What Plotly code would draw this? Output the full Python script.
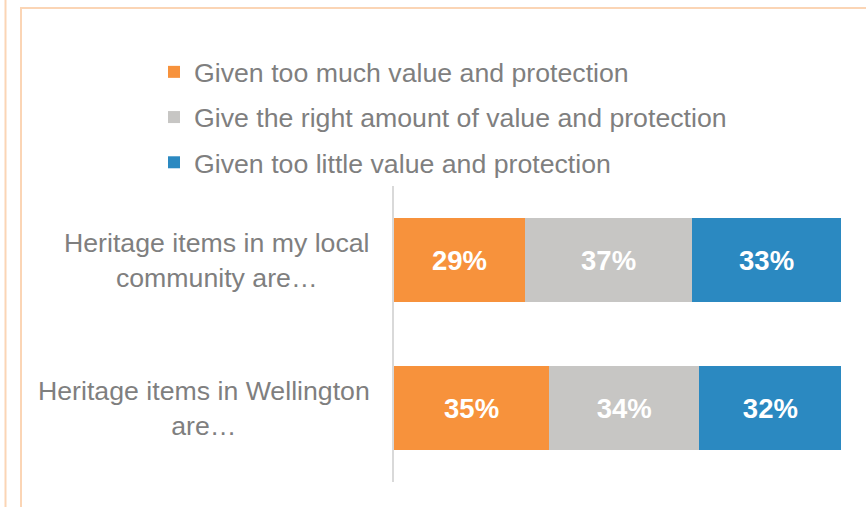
import plotly.graph_objects as go

categories = ["Heritage items in my local<br>community are…", "Heritage items in Wellington<br>are…"]
series_names = ["Given too much value and protection",
                "Give the right amount of value and protection",
                "Given too little value and protection"]
too_much = [29.3, 34.7]
right_amount = [37.4, 33.6]
too_little = [33.3, 31.8]
colors = ["#F7923C", "#C7C6C4", "#2B89C1"]

W, H = 866, 507
L, R, T, B = 394, 25, 186, 25
pw, ph = W - L - R, H - T - B
FONT = "Arial, Liberation Sans"

def px_x(x):
    return (x - L) / pw

def px_y(y):
    return (H - B - y) / ph

fig = go.Figure()
for i, (name, vals) in enumerate(zip(series_names, [too_much, right_amount, too_little])):
    fig.add_trace(go.Bar(
        y=list(range(len(categories))), x=vals, name=name, orientation="h",
        marker=dict(color=colors[i], line=dict(width=0)),
        text=[f"<b>{round(v)}%</b>" for v in vals], textposition="inside",
        insidetextanchor="middle",
        textfont=dict(color="white", size=27.5, family=FONT),
        legendgroup=f"g{i}",
    ))

annotations = []
for i, c in enumerate(categories):
    annotations.append(dict(x=px_x(372), xref="paper", y=i, yref="y", text=c,
                            showarrow=False, xanchor="right", yanchor="middle",
                            align="center",
                            font=dict(size=26.7, color="#7F7F7F", family=FONT)))

shapes = [
    dict(type="rect", xref="paper", yref="paper", x0=px_x(21), x1=px_x(900),
         y0=px_y(540), y1=px_y(8), line=dict(color="#FBD5B5", width=2), layer="below"),
    dict(type="line", xref="paper", yref="paper", x0=px_x(5.5), x1=px_x(5.5),
         y0=px_y(540), y1=px_y(-20), line=dict(color="#FBD5B5", width=2), layer="below"),
]

fig.update_layout(
    width=W, height=H, barmode="stack", bargap=0.426,
    margin=dict(l=L, r=R, t=T, b=B),
    plot_bgcolor="white", paper_bgcolor="white",
    xaxis=dict(range=[0, 100], visible=False),
    yaxis=dict(range=[1.5, -0.5], showticklabels=False, showgrid=False, zeroline=False,
               showline=True, linecolor="#D9D9D9", linewidth=2),
    showlegend=True,
    legend=dict(x=px_x(154), y=px_y(48), xanchor="left", yanchor="top",
                traceorder="grouped", tracegroupgap=7.5,
                font=dict(size=26.7, color="#7F7F7F", family=FONT),
                bgcolor="rgba(0,0,0,0)"),
    annotations=annotations, shapes=shapes,
    font=dict(family=FONT),
)

fig.write_html("out.html", config={"displayModeBar": False},
               post_script="document.body.style.margin='0px';")
